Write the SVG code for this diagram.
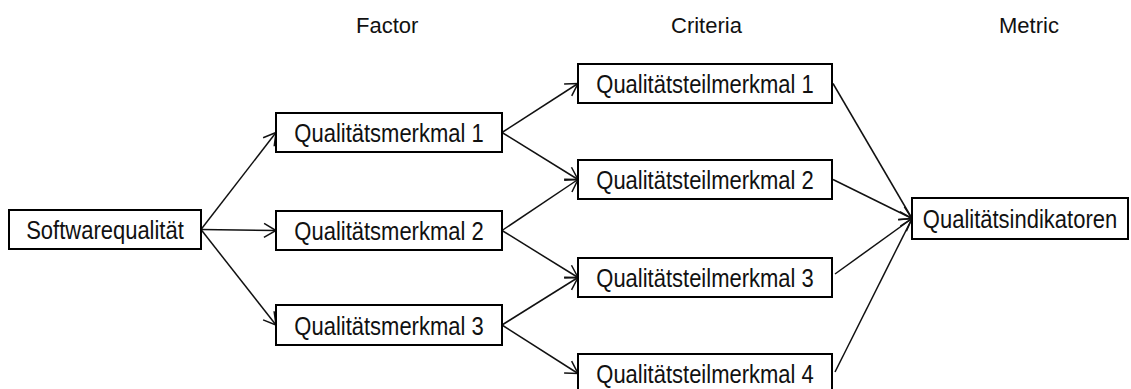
<svg xmlns="http://www.w3.org/2000/svg" width="1131" height="389" viewBox="0 0 1131 389">
  <style>
    .box { fill: #fff; stroke: #000; stroke-width: 2; }
    .lbl { font-family: "Liberation Sans", Arial, sans-serif; font-size: 22px; fill: #111; text-anchor: middle; }
    .hdr { font-family: "Liberation Sans", Arial, sans-serif; font-size: 22px; fill: #111; }
    .edge { fill: none; stroke: #111; stroke-width: 1.5; marker-end: url(#chev); }
  </style>
  <defs>
    <marker id="chev" markerUnits="userSpaceOnUse" markerWidth="18" markerHeight="18" refX="13" refY="8" orient="auto" viewBox="0 0 18 18">
      <path d="M1,1 L13,8 L1,15" fill="none" stroke="#111" stroke-width="1.5"/>
    </marker>
  </defs>
  <rect width="1131" height="389" fill="#fff"/>

  <!-- column headings -->
  <g id="headers">
    <text class="hdr" x="356" y="33">Factor</text>
    <text class="hdr" x="671" y="33">Criteria</text>
    <text class="hdr" x="999" y="33">Metric</text>
  </g>

  <!-- connectors -->
  <g id="connectors">
    <line class="edge" x1="201" y1="229.5" x2="276" y2="132.5"/>
    <line class="edge" x1="201" y1="229.5" x2="276" y2="230.5"/>
    <line class="edge" x1="201" y1="229.5" x2="276" y2="325"/>
    <line class="edge" x1="502" y1="132.5" x2="578" y2="83.5"/>
    <line class="edge" x1="502" y1="132.5" x2="578" y2="179.5"/>
    <line class="edge" x1="502" y1="230.5" x2="578" y2="179.5"/>
    <line class="edge" x1="502" y1="230.5" x2="578" y2="277.5"/>
    <line class="edge" x1="502" y1="325" x2="578" y2="277.5"/>
    <line class="edge" x1="502" y1="325" x2="578" y2="373.5"/>
    <line class="edge" x1="833" y1="83.5" x2="912" y2="218.5"/>
    <line class="edge" x1="833" y1="179.5" x2="912" y2="218.5"/>
    <line class="edge" x1="835" y1="274" x2="912" y2="218.5"/>
    <line class="edge" x1="835" y1="372" x2="912" y2="218.5"/>
  </g>

  <!-- node labels are drawn slightly tall: scale(1,1.15) about their baseline -->
  <g id="softwarequalitaet">
    <rect class="box" x="9" y="210" width="192" height="39"/>
    <text class="lbl" transform="translate(105,239) scale(1,1.15)">Softwarequalität</text>
  </g>
  <g id="qm1">
    <rect class="box" x="276" y="113" width="226" height="39"/>
    <text class="lbl" transform="translate(389,142) scale(1,1.15)">Qualitätsmerkmal 1</text>
  </g>
  <g id="qm2">
    <rect class="box" x="276" y="211" width="226" height="39"/>
    <text class="lbl" transform="translate(389,240) scale(1,1.15)">Qualitätsmerkmal 2</text>
  </g>
  <g id="qm3">
    <rect class="box" x="276" y="305" width="226" height="40"/>
    <text class="lbl" transform="translate(389,334.5) scale(1,1.15)">Qualitätsmerkmal 3</text>
  </g>
  <g id="qt1">
    <rect class="box" x="578" y="64" width="254" height="39"/>
    <text class="lbl" transform="translate(705,93) scale(1,1.15)">Qualitätsteilmerkmal 1</text>
  </g>
  <g id="qt2">
    <rect class="box" x="578" y="160" width="254" height="39"/>
    <text class="lbl" transform="translate(705,189) scale(1,1.15)">Qualitätsteilmerkmal 2</text>
  </g>
  <g id="qt3">
    <rect class="box" x="578" y="258" width="254" height="39"/>
    <text class="lbl" transform="translate(705,287) scale(1,1.15)">Qualitätsteilmerkmal 3</text>
  </g>
  <g id="qt4">
    <rect class="box" x="578" y="354" width="254" height="39"/>
    <text class="lbl" transform="translate(705,383) scale(1,1.15)">Qualitätsteilmerkmal 4</text>
  </g>
  <g id="qualitaetsindikatoren">
    <rect class="box" x="912" y="198" width="216" height="41"/>
    <text class="lbl" transform="translate(1020,228) scale(1,1.15)">Qualitätsindikatoren</text>
  </g>
</svg>
